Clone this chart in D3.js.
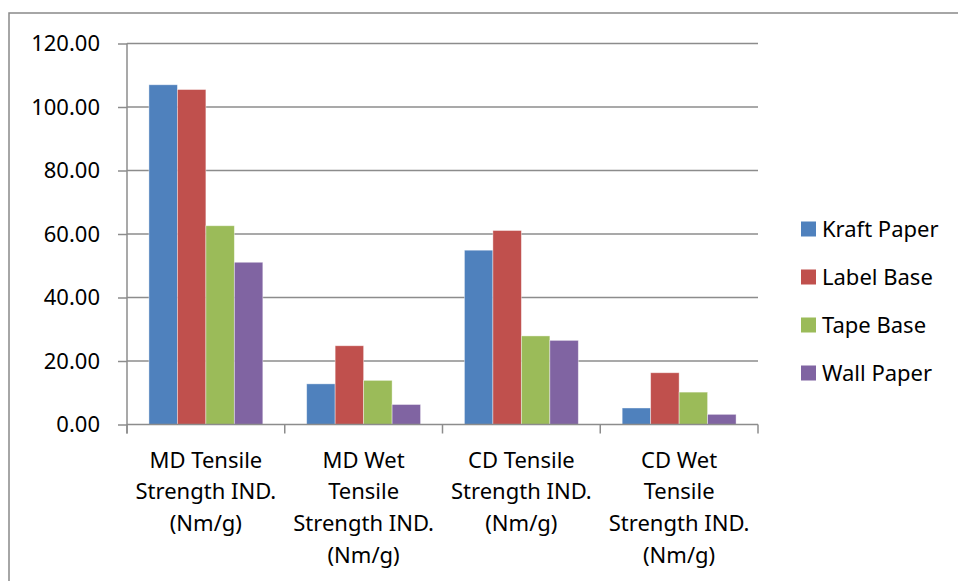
<!DOCTYPE html>
<meta charset="utf-8">
<style>
  body {
    margin: 0;
    background: #fff;
    font-family: "Noto Sans", "Open Sans", sans-serif;
  }

  svg {
    display: block;
  }

  .tick text {
    font-family: "Noto Sans", "Open Sans", sans-serif;
    font-size: 22px;
    fill: #000;
  }

  .legend text {
    font-family: "Noto Sans", "Open Sans", sans-serif;
    font-size: 22px;
    fill: #000;
  }
</style>
<body>
  <div id="chart"></div>
  <script src="https://d3js.org/d3.v7.min.js"></script>
  <script>

// chart data
var categories = [
  "MD Tensile Strength IND. (Nm/g)",
  "MD Wet Tensile Strength IND. (Nm/g)",
  "CD Tensile Strength IND. (Nm/g)",
  "CD Wet Tensile Strength IND. (Nm/g)"
];
var categoryLines = [
  ["MD Tensile", "Strength IND.", "(Nm/g)"],
  ["MD Wet", "Tensile", "Strength IND.", "(Nm/g)"],
  ["CD Tensile", "Strength IND.", "(Nm/g)"],
  ["CD Wet", "Tensile", "Strength IND.", "(Nm/g)"]
];
var seriesNames = ["Kraft Paper", "Label Base", "Tape Base", "Wall Paper"];
var kraftPaper = [107.0, 12.8, 54.9, 5.2];
var labelBase  = [105.5, 24.8, 61.1, 16.3];
var tapeBase   = [62.6, 13.9, 27.9, 10.2];
var wallPaper  = [51.1, 6.3, 26.5, 3.2];
var yTicks = [0, 20, 40, 60, 80, 100, 120];

var seriesValues = [kraftPaper, labelBase, tapeBase, wallPaper];
var colors = ["#4F81BD", "#C0504D", "#9BBB59", "#8064A2"];

var width = 958,
    height = 581;

var svg = d3.select("#chart")
  .append("svg")
  .attr("width", width)
  .attr("height", height);

// outer chart frame (runs off the right and bottom edges)
svg.append("rect")
  .attr("x", 9)
  .attr("y", 13)
  .attr("width", 1000)
  .attr("height", 700)
  .attr("fill", "none")
  .attr("stroke", "#898989")
  .attr("stroke-width", 1.5);

var y = d3.scaleLinear()
  .domain([0, 120])
  .range([424.5, 43.5]);

var x0 = d3.scaleBand()
  .domain(categories)
  .range([127, 758])
  .padding(0);

var x1 = d3.scaleBand()
  .domain(seriesNames)
  .range([0, x0.bandwidth()])
  .paddingInner(0)
  .paddingOuter(0.77);

// gridlines
svg.append("g")
  .selectAll("line")
  .data(yTicks.filter(function(d) { return d > 0; }))
  .enter().append("line")
  .attr("x1", 127)
  .attr("x2", 758)
  .attr("y1", function(d) { return y(d); })
  .attr("y2", function(d) { return y(d); })
  .attr("stroke", "#8c8c8c")
  .attr("stroke-width", 1.5);

// bars
var groups = svg.append("g")
  .selectAll("g")
  .data(categories)
  .enter().append("g")
  .attr("transform", function(d) { return "translate(" + x0(d) + ",0)"; });

groups.selectAll("rect")
  .data(function(d, i) {
    return seriesNames.map(function(s, j) {
      return { key: s, value: seriesValues[j][i], color: colors[j] };
    });
  })
  .enter().append("rect")
  .attr("x", function(d) { return x1(d.key); })
  .attr("width", x1.bandwidth())
  .attr("y", function(d) { return y(d.value); })
  .attr("height", function(d) { return y(0) - y(d.value); })
  .attr("fill", function(d) { return d.color; })
  .attr("stroke", "rgba(255,255,255,0.5)")
  .attr("stroke-width", 0.8);

// y axis
var yAxis = svg.append("g")
  .attr("transform", "translate(127,0)")
  .call(d3.axisLeft(y)
    .tickValues(yTicks)
    .tickSize(9)
    .tickPadding(18)
    .tickFormat(d3.format(".2f")))
  .attr("font-family", null)
  .attr("font-size", null);

yAxis.select(".domain")
  .attr("d", "M0," + y(120) + "V" + (y(0) + 9));

// x axis
var xAxis = svg.append("g")
  .attr("transform", "translate(0," + y(0) + ")")
  .call(d3.axisBottom(x0).tickSize(0).tickFormat(""))
  .attr("font-family", null)
  .attr("font-size", null);

xAxis.select(".domain").attr("d", "M127,0H758");

svg.append("g")
  .selectAll("line")
  .data(d3.range(categories.length + 1))
  .enter().append("line")
  .attr("x1", function(i) { return 127 + i * x0.step(); })
  .attr("x2", function(i) { return 127 + i * x0.step(); })
  .attr("y1", y(0))
  .attr("y2", y(0) + 9)
  .attr("stroke", "#8c8c8c")
  .attr("stroke-width", 1.5);

svg.selectAll(".domain, .tick line")
  .attr("stroke", "#8c8c8c")
  .attr("stroke-width", 1.5);

// category labels, wrapped like the original
xAxis.selectAll(".tick").each(function(d, i) {
  var t = d3.select(this).select("text")
    .text(null)
    .attr("y", 0)
    .attr("dy", null);
  categoryLines[i].forEach(function(line, k) {
    t.append("tspan")
      .attr("x", 0)
      .attr("y", 43 + k * 31.7)
      .text(line);
  });
});

// legend
var legend = svg.append("g")
  .attr("class", "legend")
  .selectAll("g")
  .data(seriesNames)
  .enter().append("g")
  .attr("transform", function(d, i) { return "translate(801," + (229 + i * 48) + ")"; });

legend.append("rect")
  .attr("x", 0)
  .attr("y", -7.5)
  .attr("width", 15)
  .attr("height", 15)
  .attr("fill", function(d, i) { return colors[i]; });

legend.append("text")
  .attr("x", 21)
  .attr("dy", "0.35em")
  .text(function(d) { return d; });

  </script>
</body>
